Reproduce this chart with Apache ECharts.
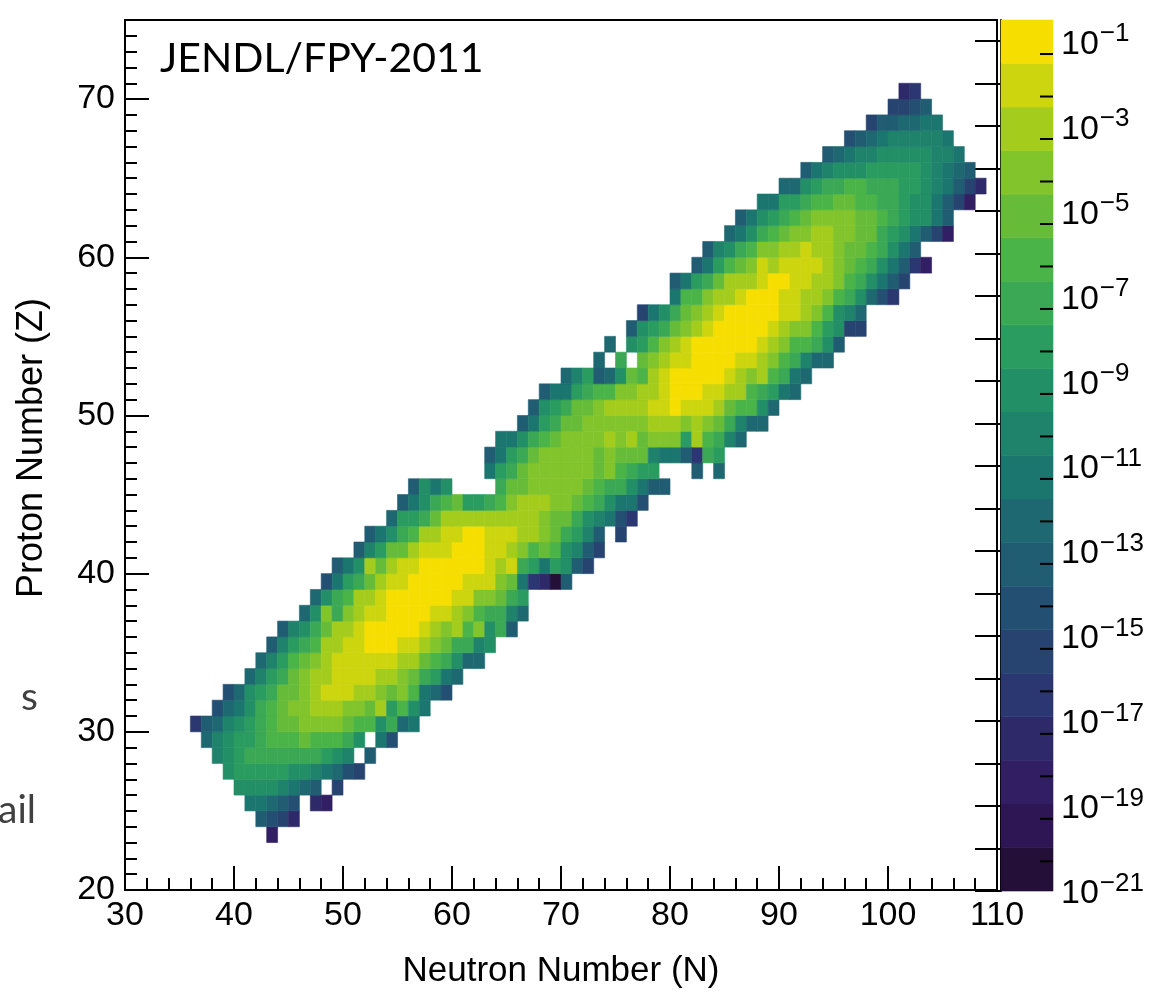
<!DOCTYPE html>
<html><head><meta charset="utf-8">
<script src="https://cdn.jsdelivr.net/npm/echarts@6/dist/echarts.min.js"></script>
<style>html,body{margin:0;padding:0;background:#fff;}#c{width:1157px;height:994px;}</style>
</head><body><div id="c"></div>
<script>
// ---- data: one row per proton number Z, colour level per neutron number N ('.' = empty bin)
// level letters A..T = colour band 0..19 (bottom .. top of the colour scale)
const rowZ = [23,24,25,26,27,28,29,30,31,32,33,34,35,36,37,38,39,40,41,42,43,44,45,46,47,48,49,50,51,52,53,54,55,56,57,58,59,60,61,62,63,64,65,66,67,68,69,70];
const rowStartN = [43,42,41,40,39,38,37,36,38,39,41,42,43,44,46,47,48,49,51,52,54,55,56,63,63,64,66,67,68,70,73,74,76,77,80,80,82,83,85,86,88,90,92,94,96,98,100,101];
const rowLevels = [
 "C",
 "HGFD",
 "JJIHG.DC",
 "LLLLKJIH.F",
 "LMMMMMLLKJIGF",
 "KLMNNNNNNNMLK.H",
 "IKLMMNOOOPOOONL.JG",
 "EHIKLMNOPPQQQQPOOLNIJ",
 "GIJLNOPQQRRRQQPRMOLJ",
 "GILMNPPQRSSSRRQPQOJIG",
 "IKMNPQRRSSSSRRQPNMJI",
 "IKMOPQRSSSSSSRRPONLII",
 "HKMNORRSSTTTSSRQPNNKL",
 "HKLNPRRSTTTTTSRQROQLNH",
 "ILQNQRSSTTTTSSRQONNKI",
 "ILNORRSTTTTTTSSQQPNM",
 "GJMNPRSSTTTTTSSSQPJEDAH",
 "HJLRPRSSTTTTTTSRSNMJMLHF",
 "HKMPPRSSSTTTSSRQOPOLKHF",
 "HJLNORRSSTTSSSRRQPNMKH.F",
 "IMMNPRRRRRRRRRQPPNLKJGE",
 "HJLNOPMMNOQRRRQQPONLJJG",
 "HLJL....NPPQQQQQPONNLJHH",
 "JMNPQQQQQQPQONMM...H.I",
 "HJMNPQQQQQPQPPPKJJHENM",
 "JJLNOPQQQQRQRPQQQMRONKI",
 "HJMNPPQQQQQQRRRQRQPNKII",
 "HLMNPPQRRRRSSTSSSRPOOLI",
 "HJJMNOOQQRRSTTTSSRRONMJI",
 "IKMHILPORSTTTTTSRQRONJI",
 "I.N.PQRSSTTTTSSRQONKII",
 "I.LMOQRSTTTTTTSRQOONLH",
 "HLMNPQRSTTTTTSRQQOMLFF",
 "FJLNPQRSTTTTTSSRQOLKI",
 "JOOQRRSTTTSSRRQONLIGE",
 "HJMNPRRRSTTSSRRQONLJHF",
 "HJMOPQSRSSSSRQPONLJHEC",
 "HKLNOQQRRSRRQPPONLJH",
 "IJLNOPQQRRQQPPNMLJHFC",
 "HJLMNOPQQQQPPONMLLJH",
 "JJMMNOOPPOONNMLLJHFC",
 "IILMNNOONNNMMLKJHFD",
 "HJKLLLMMMMMLKJIH",
 "HIJKKLLLLLKKJ",
 "GHIJKKKKKJ",
 "FHHIIJJ",
 "FFGH",
 "DE"
];
const levelCodes = "ABCDEFGHIJKLMNOPQRST";
const zLogMin = -21, zLogMax = -0.5;      // colour axis range, log10(yield)
const nLevels = 20;
const cbLabelExps = [-21,-19,-17,-15,-13,-11,-9,-7,-5,-3,-1];
const cbMinorTickExps = [-20,-19,-18,-17,-16,-15,-14,-13,-12,-11,-10,-9,-8,-7,-6,-5,-4,-3,-2,-1];
const xTicks = {min: 30, max: 110, step: 10};
const yTicks = {min: 20, max: 75, step: 10};

// ---- ROOT kViridis palette (style)
const vStops = [[26,9,30],[51,24,96],[43,55,112],[33,87,114],[28,118,112],[35,150,101],[74,180,72],[144,200,35],[246,222,0]];
function levelColor(i){
  const t=(i+0.99)/nLevels, s=t*8, k=Math.min(7,Math.floor(s)), f=s-k, a=vStops[k], b=vStops[k+1];
  return 'rgb('+[0,1,2].map(j=>Math.round(a[j]+(b[j]-a[j])*f)).join(',')+')';
}
const lvlW = (zLogMax - zLogMin)/nLevels;
const pieces = [];
for (let i=0;i<nLevels;i++) pieces.push({gte: zLogMin+i*lvlW, lt: zLogMin+(i+1)*lvlW+(i===nLevels-1?1:0), color: levelColor(i)});

const cells = [];
rowZ.forEach((z,r)=>{
  const s = rowLevels[r];
  for (let j=0;j<s.length;j++){
    const c = s[j]; if (c === '.') continue;
    const lv = levelCodes.indexOf(c);
    cells.push([rowStartN[r]+j, z, zLogMin+(lv+0.5)*lvlW]);
  }
});
const cbData = [];
for (let i=0;i<nLevels;i++) cbData.push([zLogMin+i*lvlW, zLogMin+(i+1)*lvlW, i]);

const FONT = 'Liberation Sans';
const chart = echarts.init(document.getElementById('c'), null, {renderer:'canvas'});
chart.setOption({
  animation: false,
  backgroundColor: '#fff',
  grid: [
    {left:125, top:20, width:872, height:871, show:true, borderColor:'#000', borderWidth:2, backgroundColor:'transparent'},
    {left:1001, top:20, width:52, height:871, show:false}
  ],
  visualMap: {type:'piecewise', show:false, seriesIndex:0, dimension:2, pieces: pieces},
  xAxis: [
    {gridIndex:0, type:'value', min:xTicks.min, max:xTicks.max, interval:xTicks.step,
     name:'Neutron Number (N)', nameLocation:'middle', nameGap:64,
     nameTextStyle:{fontFamily:FONT, fontSize:35, color:'#000', verticalAlign:'top'},
     axisLine:{lineStyle:{color:'#000', width:2}},
     axisTick:{inside:true, length:24, lineStyle:{color:'#000', width:2}},
     minorTick:{show:true, splitNumber:5, length:12, lineStyle:{color:'#000', width:2}},
     axisLabel:{fontFamily:FONT, fontSize:34, color:'#000', margin:9},
     splitLine:{show:false}},
    {gridIndex:1, type:'value', min:0, max:1, show:false}
  ],
  yAxis: [
    {gridIndex:0, type:'value', min:yTicks.min, max:yTicks.max, interval:yTicks.step,
     axisLine:{lineStyle:{color:'#000', width:2}},
     axisTick:{inside:true, length:24, lineStyle:{color:'#000', width:2}},
     minorTick:{show:true, splitNumber:10, length:12, lineStyle:{color:'#000', width:2}},
     axisLabel:{fontFamily:FONT, fontSize:34, color:'#000', margin:10, showMaxLabel:false},
     splitLine:{show:false}},
    {gridIndex:1, type:'value', min:zLogMin, max:zLogMax, interval:1, position:'right',
     axisLine:{show:true, lineStyle:{color:'#000', width:2}},
     axisTick:{inside:true, length:26, lineStyle:{color:'#000', width:2}},
     axisLabel:{margin:8, showMaxLabel:false,
       formatter: v => (Number.isInteger(v) && cbLabelExps.indexOf(v) >= 0) ? '{b|10}{s|\u2212'+(-v)+'}' : '',
       rich:{ b:{fontFamily:FONT, fontSize:34, color:'#000', lineHeight:40, verticalAlign:'bottom'},
              s:{fontFamily:FONT, fontSize:26, color:'#000', lineHeight:26, verticalAlign:'top', padding:[0,0,0,1]} }},
     splitLine:{show:false}}
  ],
  graphic: [
    {type:'text', left:160, top:38, style:{text:'JENDL/FPY-2011', font:'41px Lato', fill:'#000'}},
    {type:'text', x:50, y:448, rotation:Math.PI/2,
     style:{text:'Proton Number (Z)', font:'36px "Liberation Sans"', fill:'#000', textAlign:'center', textVerticalAlign:'bottom'}},
    {type:'text', left:21, top:678, style:{text:'s', font:'39px Lato', fill:'#404040'}},
    {type:'text', left:-2, top:791, style:{text:'ail', font:'39px Lato', fill:'#404040'}}
  ],
  series: [
    {type:'custom', xAxisIndex:0, yAxisIndex:0, data: cells, clip:true,
     encode:{x:0, y:1},
     renderItem:(params, api)=>{
       const n=api.value(0), z=api.value(1);
       const p0=api.coord([n, z+1]), p1=api.coord([n+1, z]);
       const col = api.visual('color');
       return {type:'rect', shape:{x:p0[0], y:p0[1], width:p1[0]-p0[0], height:p1[1]-p0[1]},
               style:{fill:col, stroke:col, lineWidth:0.6}};
     }},
    {type:'custom', xAxisIndex:1, yAxisIndex:1, data: cbData, silent:true,
     renderItem:(params, api)=>{
       const lo=api.value(0), hi=api.value(1), i=api.value(2);
       const p0=api.coord([0, hi]), p1=api.coord([1, lo]);
       const col = levelColor(i);
       return {type:'rect', shape:{x:p0[0], y:p0[1], width:p1[0]-p0[0], height:p1[1]-p0[1]},
               style:{fill:col, stroke:col, lineWidth:0.6}};
     }},
    {type:'custom', xAxisIndex:1, yAxisIndex:1, data: cbMinorTickExps.map(e=>[e - Math.log10(2)]), silent:true, z:5,
     renderItem:(params, api)=>{
       const p=api.coord([1, api.value(0)]);
       return {type:'line', shape:{x1:p[0], y1:p[1], x2:p[0]-13, y2:p[1]}, style:{stroke:'#000', lineWidth:2}};
     }}
  ]
});
</script></body></html>
